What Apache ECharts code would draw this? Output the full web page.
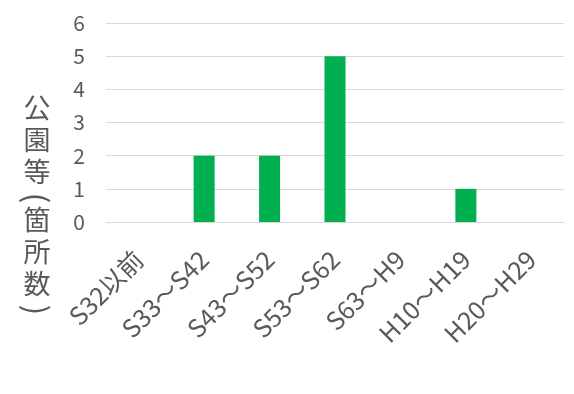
<!DOCTYPE html>
<html><head><meta charset="utf-8">
<script src="https://cdn.jsdelivr.net/npm/echarts@6/dist/echarts.min.js"></script>
<style>html,body{margin:0;padding:0;background:#fff}#c{width:574px;height:394px}</style>
</head><body><div id="c"></div>
<script>
const categories = ['S32以前','S33～S42','S43～S52','S53～S62','S63～H9','H10～H19','H20～H29'];
const values = [0,2,2,5,0,1,0];
const yMin = 0, yMax = 6, yInterval = 1;
const axisTitle = '公園等(箇所数)';

const FONT = '"Noto Sans CJK JP", "Noto Sans", sans-serif';
const GRAY = '#595959';

// vertical axis title: one text element per character, brackets turned 90°
const titleEls = [];
let ty = 94;
Array.from(axisTitle).forEach(ch => {
  if (ch === '(' || ch === ')') {
    titleEls.push({
      type: 'text', x: 37, y: ty + 8, rotation: -Math.PI / 2,
      style: {text: ch, fill: GRAY, font: '31px ' + FONT, align: 'center', verticalAlign: 'middle'}
    });
    ty += 16;
  } else {
    titleEls.push({
      type: 'text', x: 37, y: ty,
      style: {text: ch, fill: GRAY, font: '27px ' + FONT, align: 'center', verticalAlign: 'top'}
    });
    ty += 32;
  }
});

const chart = echarts.init(document.getElementById('c'), null, {renderer: 'canvas'});
chart.setOption({
  animation: false,
  grid: {left: 106, right: 10, top: 23, bottom: 172, containLabel: false},
  xAxis: {
    type: 'category',
    data: categories,
    axisTick: {show: false},
    axisLine: {lineStyle: {color: '#d9d9d9', width: 1}},
    axisLabel: {rotate: 45, color: GRAY, fontSize: 25, fontFamily: FONT, margin: 33, interval: 0}
  },
  yAxis: {
    type: 'value',
    min: yMin, max: yMax, interval: yInterval,
    axisLine: {show: false},
    axisTick: {show: false},
    splitLine: {lineStyle: {color: '#d9d9d9', width: 1}},
    axisLabel: {color: GRAY, fontSize: 21, fontFamily: FONT, margin: 21}
  },
  series: [{
    type: 'bar',
    data: values,
    barWidth: 21,
    itemStyle: {color: '#00B050'}
  }],
  graphic: [{type: 'group', children: titleEls}]
});
</script>
</body></html>
